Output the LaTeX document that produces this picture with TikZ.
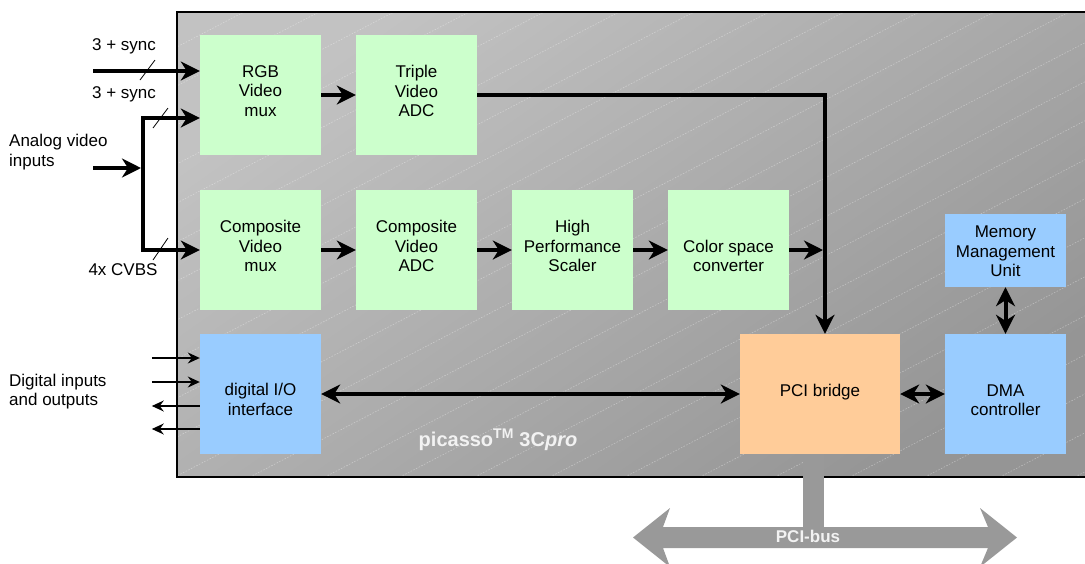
\documentclass[tikz,border=0pt]{standalone}
\usepackage{fontspec}
\setmainfont{Liberation Sans}
\usetikzlibrary{arrows.meta}
\definecolor{grn}{HTML}{CCFFCC}
\definecolor{blu}{HTML}{99CCFF}
\definecolor{org}{HTML}{FFCC99}
\definecolor{chiptop}{HTML}{C2C2C2}
\definecolor{chipbot}{HTML}{959595}
\definecolor{busgrey}{HTML}{999999}
\definecolor{lbl}{HTML}{F2F2F2}
\tikzset{
  blk/.style={minimum width=121pt, minimum height=120pt, inner sep=0pt},
  btxt/.style={inner sep=0pt, align=center, font=\fontsize{17}{19.5}\selectfont},
  txt/.style={inner sep=0pt, align=left, font=\fontsize{17}{19.5}\selectfont},
  thk/.style={line width=4pt, draw=black},
  thn/.style={line width=1.4pt, draw=black},
  bigtip/.tip={Stealth[length=19pt,width=19pt,inset=6pt]},
  smalltip/.tip={Stealth[length=12pt,width=11pt,inset=4pt]},
  hatch/.style={draw=white, opacity=0.35, line width=0.6pt, dash pattern=on 1.5pt off 1.5pt},
}
\begin{document}
\begin{tikzpicture}[x=1pt,y=-1pt]
\useasboundingbox (0,0) rectangle (1085,563);
% chip body
\path[top color=chiptop, bottom color=chipbot, shading angle=35] (177,12) rectangle (1100,477);
\begin{scope}
  \clip (177,12) rectangle (1100,477);
  \foreach \k in {-12,...,13} {
    \draw[hatch] ({100+75*\k},477) -- ({100+75*\k+894},12);
  }
\end{scope}
\draw[line width=2pt] (1100,12) -- (177,12) -- (177,477) -- (1100,477);

% blocks
\node[blk, fill=grn] (rgb)  at (260.5,95) {};
\node[blk, fill=grn] (tadc) at (416.5,95) {};
\node[blk, fill=grn] (cmux) at (260.5,250) {};
\node[blk, fill=grn] (cadc) at (416.5,250) {};
\node[blk, fill=grn] (scal) at (572.5,250) {};
\node[blk, fill=grn] (csc)  at (728.5,250) {};
\node[blk, fill=blu] (dio)  at (260.5,394) {};
\node[blk, fill=org, minimum width=160pt] (pci) at (820,394) {};
\node[blk, fill=blu] (dma)  at (1005.5,394) {};
\node[blk, fill=blu, minimum height=73pt] (mmu) at (1005.5,250.5) {};

\node[btxt] (rgbT)  at ([yshift=4pt]rgb.center) {RGB\\Video\\mux};
\node[btxt] (tadcT) at ([yshift=4pt]tadc.center) {Triple\\Video\\ADC};
\node[btxt] (cmuxT) at ([yshift=4pt]cmux.center) {Composite\\Video\\mux};
\node[btxt] (cadcT) at ([yshift=4pt]cadc.center) {Composite\\Video\\ADC};
\node[btxt] (scalT) at ([yshift=4pt]scal.center) {High\\Performance\\Scaler};
\node[btxt] (cscT)  at ([yshift=-6pt]csc.center) {Color space\\converter};
\node[btxt] (dioT)  at ([yshift=-5.5pt]dio.center) {digital I/O\\interface};
\node[btxt] (pciT)  at ([yshift=2pt]pci.center) {PCI bridge};
\node[btxt] (dmaT)  at ([yshift=-6pt]dma.center) {DMA\\controller};
\node[btxt] (mmuT)  at ([yshift=-1pt]mmu.center) {Memory\\Management\\Unit};

% PCI bus
\fill[busgrey] (803,454) rectangle (824,530);
\fill[busgrey] (633,537.5) -- (670,508) -- (663,527) -- (988,527) -- (980,508) -- (1017,537.5)
  -- (980,567) -- (988,548) -- (663,548) -- (670,567) -- cycle;
\node[inner sep=0pt, text=lbl, font=\fontsize{17}{19}\selectfont\bfseries] (bus) at (808,536) {PCI-bus};

\node[inner sep=0pt, text=lbl, font=\fontsize{20}{22}\selectfont\bfseries] (name) at (498,440)
  {picasso\textsuperscript{TM} 3C\textit{pro}};

% analog inputs
\coordinate (in1) at (93,71);
\coordinate (ain) at (93,168);
\coordinate (rail) at (143,168);
\draw[thk,-bigtip] (in1) -- ([yshift=24pt]rgb.west);
\draw[thk,-bigtip] (ain) -- ([xshift=-2pt]rail);
\draw[thk,bigtip-bigtip,line join=miter] ([yshift=-23pt]rgb.west) -| (rail) |- (cmux.west);
\draw[line width=0.8pt] (140,80) -- (155,60);
\draw[line width=0.8pt] (153,128) -- (168,108);
\draw[line width=0.8pt] (153,260) -- (168,238);
\node[txt] (l1) at (124,46) {3 + sync};
\node[txt] (l2) at (124,94) {3 + sync};
\node[txt] (l3) at (123,270) {4x CVBS};
\node[txt, anchor=west] (l4) at (9,152) {Analog video\\inputs};
\node[txt, anchor=west] (l5) at (9,391.5) {Digital inputs\\and outputs};

% data path
\coordinate (j) at (825,95);
\draw[thk,-bigtip] (rgb) -- (tadc);
\draw[thk,-bigtip,line join=miter] (tadc.east) -- (j) -- (j |- pci.north);
\draw[thk,-bigtip] (cmux) -- (cadc);
\draw[thk,-bigtip] (cadc) -- (scal);
\draw[thk,-bigtip] (scal) -- (csc);
\draw[thk,-bigtip] (csc.east) -- ([xshift=-2pt]csc.east -| j);
\draw[thk,bigtip-bigtip] (dio) -- (pci);
\draw[thk,bigtip-bigtip] (pci) -- (dma);
\draw[thk,bigtip-bigtip] (mmu) -- (dma);

% digital I/O
\draw[thn,-smalltip] ([xshift=-48pt,yshift=36pt]dio.west) -- ([yshift=36pt]dio.west);
\draw[thn,-smalltip] ([xshift=-48pt,yshift=12pt]dio.west) -- ([yshift=12pt]dio.west);
\draw[thn,-smalltip] ([yshift=-12pt]dio.west) -- ([xshift=-48pt,yshift=-12pt]dio.west);
\draw[thn,-smalltip] ([yshift=-35pt]dio.west) -- ([xshift=-48pt,yshift=-35pt]dio.west);
\end{tikzpicture}
\end{document}
